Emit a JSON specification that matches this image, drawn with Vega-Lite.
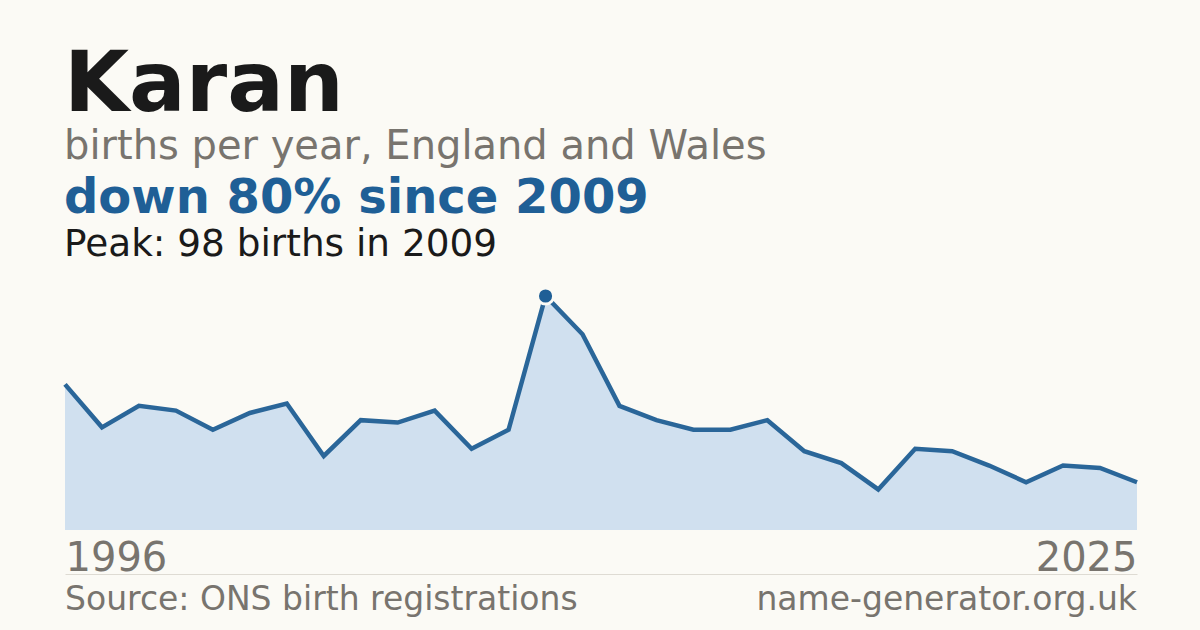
{
  "$schema": "https://vega.github.io/schema/vega-lite/v6.json",
  "background": "#FBFAF5",
  "padding": {"left": 56, "right": 64, "top": 43, "bottom": 5},
  "title": {
    "text": "Karan",
    "subtitle": "births per year, England and Wales",
    "anchor": "start",
    "dx": 8,
    "font": "DejaVu Sans",
    "fontSize": 84,
    "fontWeight": "bold",
    "color": "#1a1a1a",
    "subtitleFont": "DejaVu Sans",
    "subtitleFontSize": 40,
    "subtitleColor": "#78746E",
    "subtitlePadding": -2,
    "offset": 7
  },
  "bounds": "flush",
  "spacing": 44,
  "vconcat": [
    {
      "title": {
        "text": "down 80% since 2009",
        "subtitle": "Peak: 98 births in 2009",
        "anchor": "start",
        "dx": 8,
        "font": "DejaVu Sans",
        "fontSize": 48,
        "fontWeight": "bold",
        "color": "#1F5F96",
        "subtitleFont": "DejaVu Sans",
        "subtitleFontSize": 37.4,
        "subtitleColor": "#1a1a1a",
        "subtitlePadding": 3,
        "offset": 19
      },
      "width": 1072,
      "height": 234,
      "data": {
        "values": [
          {"year": 1996, "births": 61},
          {"year": 1997, "births": 43},
          {"year": 1998, "births": 52},
          {"year": 1999, "births": 50},
          {"year": 2000, "births": 42},
          {"year": 2001, "births": 49},
          {"year": 2002, "births": 53},
          {"year": 2003, "births": 31},
          {"year": 2004, "births": 46},
          {"year": 2005, "births": 45},
          {"year": 2006, "births": 50},
          {"year": 2007, "births": 34},
          {"year": 2008, "births": 42},
          {"year": 2009, "births": 98},
          {"year": 2010, "births": 82},
          {"year": 2011, "births": 52},
          {"year": 2012, "births": 46},
          {"year": 2013, "births": 42},
          {"year": 2014, "births": 42},
          {"year": 2015, "births": 46},
          {"year": 2016, "births": 33},
          {"year": 2017, "births": 28},
          {"year": 2018, "births": 17},
          {"year": 2019, "births": 34},
          {"year": 2020, "births": 33},
          {"year": 2021, "births": 27},
          {"year": 2022, "births": 20},
          {"year": 2023, "births": 27},
          {"year": 2024, "births": 26},
          {"year": 2025, "births": 20}
        ]
      },
      "encoding": {
        "x": {
          "field": "year",
          "type": "quantitative",
          "scale": {"domain": [1996, 2025], "nice": false, "zero": false},
          "axis": {
            "values": [1996, 2025],
            "format": "d",
            "title": null,
            "domain": false,
            "ticks": false,
            "grid": false,
            "labelFlush": true,
            "labelFont": "DejaVu Sans",
            "labelFontSize": 40,
            "labelColor": "#78746E",
            "labelPadding": 8
          }
        },
        "y": {
          "field": "births",
          "type": "quantitative",
          "scale": {"domain": [0, 98], "nice": false},
          "axis": null
        }
      },
      "layer": [
        {"mark": {"type": "area", "color": "#D0E0EF"}},
        {"mark": {"type": "line", "color": "#2A6699", "strokeWidth": 4.5}},
        {
          "transform": [{"filter": "datum.year == 2009"}],
          "mark": {"type": "point", "filled": true, "color": "#1F5F96", "size": 260, "stroke": "#FBFAF5", "strokeWidth": 3, "strokeOpacity": 1, "opacity": 1}
        }
      ]
    },
    {
      "width": 1072,
      "height": 52,
      "data": {
        "values": [
          {"year": 1996, "label": "Source: ONS birth registrations"},
          {"year": 2025, "label": "name-generator.org.uk"}
        ]
      },
      "encoding": {
        "x": {
          "field": "year",
          "type": "quantitative",
          "scale": {"domain": [1996, 2025], "nice": false, "zero": false},
          "axis": {
            "orient": "top",
            "title": null,
            "labels": false,
            "ticks": false,
            "grid": false,
            "domain": true,
            "domainColor": "#DEDBD3",
            "domainWidth": 1
          }
        },
        "text": {"field": "label"}
      },
      "layer": [
        {
          "transform": [{"filter": "datum.year == 1996"}],
          "mark": {"type": "text", "align": "left", "baseline": "middle", "font": "DejaVu Sans", "fontSize": 33, "color": "#78746E"}
        },
        {
          "transform": [{"filter": "datum.year == 2025"}],
          "mark": {"type": "text", "align": "right", "baseline": "middle", "font": "DejaVu Sans", "fontSize": 33, "color": "#78746E"}
        }
      ]
    }
  ],
  "config": {"view": {"stroke": null}, "font": "DejaVu Sans"}
}
